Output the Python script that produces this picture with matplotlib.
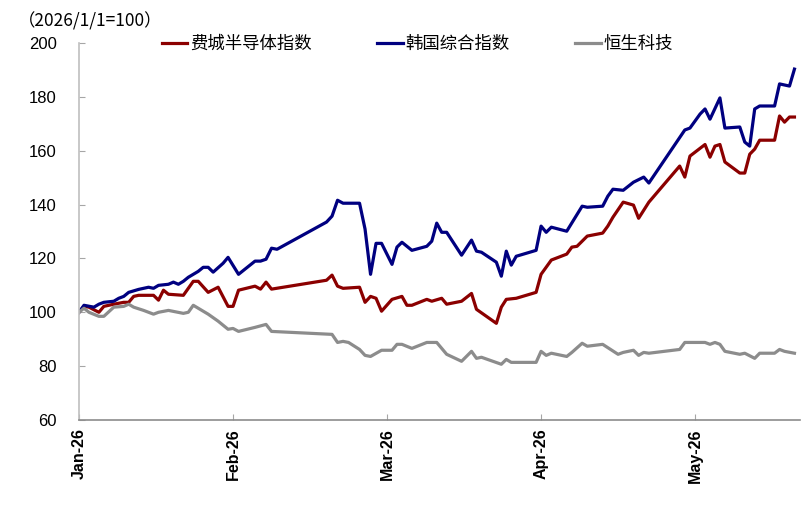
import calendar
import pandas as pd
import matplotlib
matplotlib.use("Agg")
import matplotlib.pyplot as plt

plt.rcParams['font.family'] = ['Liberation Sans', 'Noto Sans CJK SC', 'DejaVu Sans']

# --- data (2026/1/1 = 100) ---
sox_dates = ["01-01", "01-02", "01-03", "01-05", "01-06", "01-08", "01-10", "01-11", "01-12",
             "01-13", "01-16", "01-17", "01-18", "01-19", "01-22", "01-24", "01-25", "01-27",
             "01-29", "01-31", "02-01", "02-02", "02-05", "02-06", "02-07", "02-08", "02-18",
             "02-19", "02-20", "02-21", "02-24", "02-25", "02-26", "02-27", "02-28", "03-02",
             "03-04", "03-05", "03-06", "03-09", "03-10", "03-12", "03-13", "03-16", "03-18",
             "03-19", "03-23", "03-24", "03-25", "03-27", "03-31", "04-01", "04-03", "04-06",
             "04-07", "04-08", "04-10", "04-13", "04-14", "04-15", "04-17", "04-19", "04-20",
             "04-22", "04-28", "04-29", "04-30", "05-03", "05-04", "05-05", "05-06", "05-07",
             "05-10", "05-11", "05-12", "05-13", "05-14", "05-17", "05-18", "05-19", "05-20",
             "05-21"]
sox_values = [100.0, 102.2, 101.9, 100.0, 102.2, 103.0, 103.7, 103.7, 105.9,
              106.3, 106.3, 104.5, 108.2, 106.7, 106.3, 111.5, 111.5, 107.4,
              109.3, 102.2, 102.2, 108.2, 109.7, 108.6, 111.2, 108.6, 111.9,
              113.8, 109.7, 108.9, 109.3, 103.7, 105.9, 105.2, 100.4, 104.8,
              105.9, 102.6, 102.6, 104.8, 104.1, 105.2, 103.0, 104.1, 107.0,
              101.1, 95.9, 101.9, 104.8, 105.2, 107.4, 114.1, 119.4, 121.6,
              124.2, 124.5, 128.3, 129.4, 132.0, 135.3, 140.9, 139.8, 134.9,
              140.9, 154.3, 150.2, 158.0, 162.3, 157.6, 161.7, 162.3, 155.8,
              151.7, 151.7, 158.7, 160.6, 163.9, 163.9, 172.9, 170.6, 172.5,
              172.5]

kospi_dates = ["01-01", "01-02", "01-04", "01-05", "01-06", "01-08", "01-09", "01-10", "01-11",
               "01-13", "01-15", "01-16", "01-17", "01-19", "01-20", "01-21", "01-22", "01-23",
               "01-25", "01-26", "01-27", "01-28", "01-30", "01-31", "02-02", "02-05", "02-06",
               "02-07", "02-08", "02-09", "02-18", "02-19", "02-20", "02-21", "02-24", "02-25",
               "02-26", "02-27", "02-28", "03-02", "03-03", "03-04", "03-05", "03-06", "03-09",
               "03-10", "03-11", "03-12", "03-13", "03-16", "03-18", "03-19", "03-20", "03-23",
               "03-24", "03-25", "03-26", "03-27", "03-31", "04-01", "04-02", "04-03", "04-06",
               "04-09", "04-10", "04-13", "04-14", "04-15", "04-17", "04-19", "04-21", "04-22",
               "04-29", "04-30", "05-02", "05-03", "05-04", "05-06", "05-07", "05-10", "05-11",
               "05-12", "05-13", "05-14", "05-17", "05-18", "05-20", "05-21"]
kospi_values = [100.0, 102.6, 101.9, 103.0, 103.7, 104.1, 105.2, 105.9, 107.4,
                108.5, 109.3, 108.9, 110.0, 110.4, 111.2, 110.4, 111.5, 113.0,
                115.2, 116.7, 116.7, 114.9, 118.2, 120.4, 114.1, 119.0, 119.0,
                119.7, 123.8, 123.4, 133.5, 135.7, 141.6, 140.5, 140.5, 130.9,
                114.1, 125.6, 125.6, 117.8, 124.2, 126.0, 124.5, 123.0, 124.5,
                126.4, 133.1, 129.7, 129.7, 121.2, 126.8, 122.7, 122.3, 118.6,
                113.4, 122.7, 117.5, 120.8, 123.0, 132.0, 129.7, 131.6, 130.1,
                139.4, 139.0, 139.4, 143.1, 145.7, 145.3, 148.3, 150.2, 148.0,
                167.7, 168.4, 173.6, 175.5, 171.7, 179.6, 168.4, 168.8, 163.2,
                161.7, 175.5, 176.6, 176.6, 184.8, 184.0, 190.3]

hstech_dates = ["01-01", "01-02", "01-03", "01-05", "01-06", "01-08", "01-10", "01-11", "01-12",
                "01-14", "01-16", "01-17", "01-19", "01-22", "01-23", "01-24", "01-27", "01-29",
                "01-31", "02-01", "02-02", "02-05", "02-07", "02-08", "02-19", "02-20", "02-21",
                "02-22", "02-24", "02-25", "02-26", "02-28", "03-02", "03-03", "03-04", "03-06",
                "03-09", "03-11", "03-13", "03-16", "03-18", "03-19", "03-20", "03-24", "03-25",
                "03-26", "03-31", "04-01", "04-02", "04-03", "04-06", "04-07", "04-09", "04-10",
                "04-13", "04-16", "04-17", "04-19", "04-20", "04-21", "04-22", "04-28", "04-29",
                "05-03", "05-04", "05-05", "05-06", "05-07", "05-10", "05-11", "05-13", "05-14",
                "05-17", "05-18", "05-19", "05-21"]
hstech_values = [100.0, 101.5, 100.0, 98.5, 98.5, 101.9, 102.2, 103.0, 101.9,
                 100.7, 99.3, 100.0, 100.7, 99.6, 100.0, 102.6, 99.3, 96.7,
                 93.7, 94.0, 92.9, 94.4, 95.5, 92.9, 91.8, 88.8, 89.2,
                 88.8, 86.2, 84.0, 83.6, 85.9, 85.9, 88.1, 88.1, 86.6,
                 88.8, 88.8, 84.4, 81.8, 85.5, 82.9, 83.3, 80.7, 82.5,
                 81.4, 81.4, 85.5, 84.0, 84.8, 83.6, 85.1, 88.5, 87.4,
                 88.1, 84.4, 85.1, 85.9, 84.0, 85.1, 84.8, 86.2, 88.8,
                 88.8, 88.1, 88.8, 88.1, 85.5, 84.4, 84.8, 82.9, 84.8,
                 84.8, 86.2, 85.5, 84.8]

month_labels = ["Jan-26", "Feb-26", "Mar-26", "Apr-26", "May-26"]


# the source chart spaces every month equally, so position = month index + fraction of month
def month_pos(dates):
    d = pd.to_datetime(["2026-" + s for s in dates])
    days_in = [calendar.monthrange(2026, m)[1] for m in d.month]
    return [(m - 1) + (day - 1) / n for m, day, n in zip(d.month, d.day, days_in)]


fig = plt.figure(figsize=(8.12, 5.05), dpi=100)
ax = fig.add_axes([0.0973, 0.1683, 0.8877, 0.7466])

ax.plot(month_pos(sox_dates), sox_values, color="#8B0000", lw=2.3, label="费城半导体指数")
ax.plot(month_pos(kospi_dates), kospi_values, color="#000080", lw=2.3, label="韩国综合指数")
ax.plot(month_pos(hstech_dates), hstech_values, color="#8C8C8C", lw=2.3, label="恒生科技")

ax.set_ylim(60, 200)
ax.set_yticks(range(60, 201, 20))
ax.set_xlim(0, 4.68)
ax.set_xticks(range(len(month_labels)))
ax.set_xticklabels(month_labels, rotation=90, fontsize=11.5, fontweight="bold")

for side in ["top", "right"]:
    ax.spines[side].set_visible(False)
ax.spines["left"].set_color("#BFBFBF")
ax.spines["bottom"].set_color("#8C8C8C")
ax.spines["left"].set_linewidth(1.2)
ax.spines["bottom"].set_linewidth(1.2)
ax.tick_params(axis="both", direction="in", length=4, color="#A6A6A6")
ax.tick_params(axis="y", pad=16, labelsize=12)
ax.tick_params(axis="x", pad=6)

fig.text(0.022, 0.957, "（2026/1/1=100）", fontsize=12.5,
         family=["Noto Sans CJK SC", "DejaVu Sans"], va="center")

leg = fig.legend(loc="center", bbox_to_anchor=(0.514, 0.913), ncol=3, frameon=False,
                 handlelength=1.45, handletextpad=0.15, columnspacing=3.8,
                 prop={"family": ["Noto Sans CJK SC"], "size": 12.5})

fig.savefig("out.png", dpi=100)
